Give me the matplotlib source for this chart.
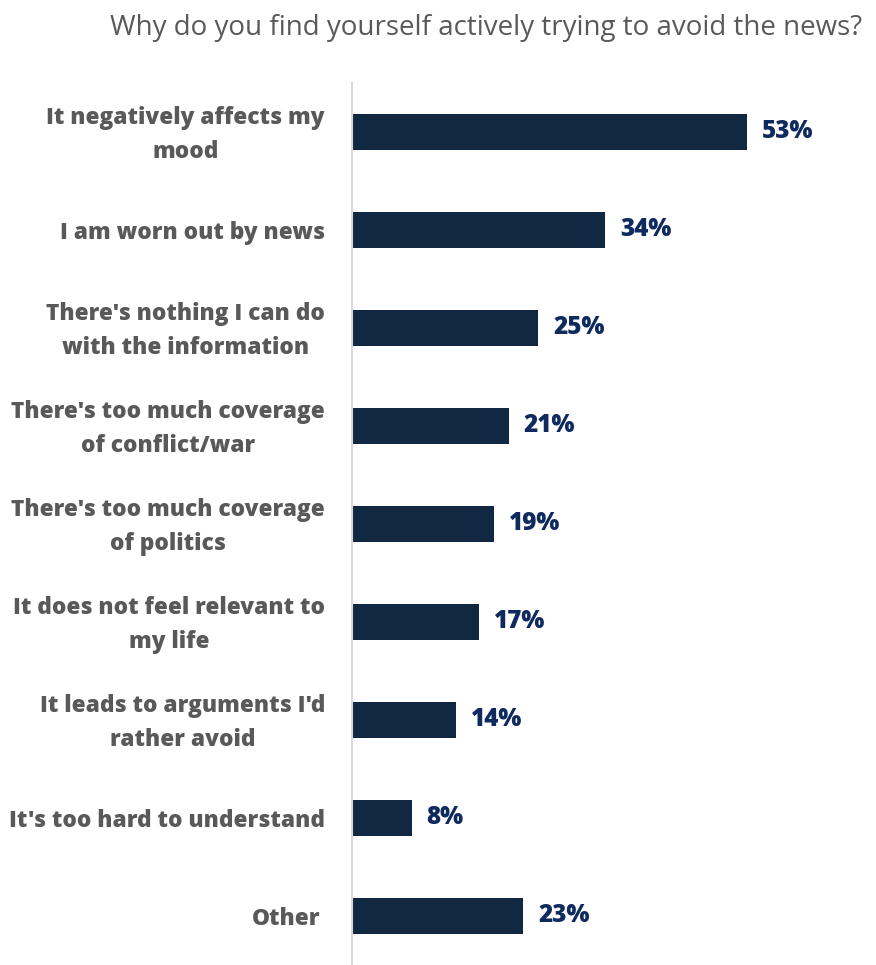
import matplotlib.pyplot as plt

plt.rcParams['font.family'] = ['Open Sans', 'DejaVu Sans']

categories = [
    "It negatively affects my\nmood",
    "I am worn out by news",
    "There's nothing I can do\nwith the information",
    "There's too much coverage\nof conflict/war",
    "There's too much coverage\nof politics",
    "It does not feel relevant to\nmy life",
    "It leads to arguments I'd\nrather avoid",
    "It's too hard to understand",
    "Other",
]
values = [53, 34, 25, 21, 19, 17, 14, 8, 23]

bar_color = '#112842'
value_color = '#0e2a5e'
label_color = '#595959'

fig = plt.figure(figsize=(8.76, 9.65), dpi=100)
ax = fig.add_axes([352 / 876, 0, 1 - 352 / 876, 1 - 83 / 965])

ypos = list(range(len(categories)))
ax.barh(ypos, values, height=0.36, color=bar_color, zorder=2)
ax.set_ylim(len(categories) - 0.5, -0.5)
ax.set_xlim(0, 70.3)

# value labels to the right of each bar
for y, v in zip(ypos, values):
    ax.text(v + 2.0, y, f"{v}%", va='center', ha='left', fontsize=17.5,
            fontweight='extra bold', color=value_color)

# category labels, right-aligned against the axis line
for y, label in zip(ypos, categories):
    xoff = -32 if label == "Other" else -27
    ax.annotate(label, xy=(0, y), xycoords=('axes fraction', 'data'),
                xytext=(xoff * 0.72, -2.0), textcoords='offset points',
                ha='right', va='center', multialignment='center',
                fontsize=16.3, fontweight='extra bold', color=label_color,
                linespacing=1.55)

ax.set_xticks([])
ax.set_yticks([])
for side in ['top', 'right', 'bottom']:
    ax.spines[side].set_visible(False)
ax.spines['left'].set_color('#d9d9d9')
ax.spines['left'].set_linewidth(1.5)

fig.text(862 / 876, 1 - 28 / 965, "Why do you find yourself actively trying to avoid the news?",
         ha='right', va='center', fontsize=20, color='#595959')

fig.savefig('out.png', dpi=100)
